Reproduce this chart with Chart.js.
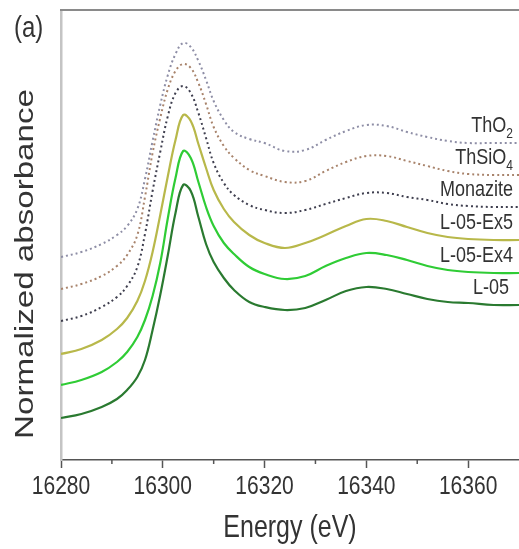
<!DOCTYPE html>
<html>
<head>
<meta charset="utf-8">
<script src="https://cdn.jsdelivr.net/npm/chart.js@4.4.1/dist/chart.umd.min.js"></script>
<style>
  html, body { margin: 0; padding: 0; background: #fff; }
  #wrap { position: relative; width: 519px; height: 549px; }
</style>
</head>
<body>
<div id="wrap"><canvas id="xanesChart"></canvas></div>
<script>
const energy = [16280, 16284, 16288, 16291, 16293, 16295, 16296.5, 16298, 16299.5, 16301, 16302.5, 16304, 16305.5, 16307, 16308.5, 16310, 16312, 16314, 16317, 16320, 16324, 16328, 16332, 16336, 16340, 16344, 16348, 16352, 16356, 16360, 16365, 16370];

const thO2 = [2.03, 2.08, 2.16, 2.25, 2.34, 2.51, 2.81, 3.19, 3.55, 3.85, 4.06, 4.17, 4.13, 3.99, 3.80, 3.59, 3.40, 3.28, 3.21, 3.17, 3.09, 3.10, 3.20, 3.29, 3.35, 3.34, 3.28, 3.23, 3.19, 3.17, 3.17, 3.17];
const thSiO4 = [1.71, 1.76, 1.84, 1.94, 2.05, 2.25, 2.63, 3.07, 3.42, 3.71, 3.89, 3.96, 3.92, 3.77, 3.56, 3.33, 3.14, 3.02, 2.90, 2.84, 2.78, 2.79, 2.89, 2.98, 3.04, 3.04, 2.99, 2.94, 2.89, 2.86, 2.85, 2.85];
const monazite = [1.39, 1.44, 1.53, 1.63, 1.74, 1.93, 2.26, 2.69, 3.08, 3.44, 3.67, 3.74, 3.67, 3.47, 3.22, 2.97, 2.77, 2.65, 2.55, 2.50, 2.47, 2.50, 2.56, 2.62, 2.67, 2.67, 2.63, 2.60, 2.56, 2.54, 2.53, 2.53];
const l05Ex5 = [1.06, 1.11, 1.20, 1.31, 1.42, 1.59, 1.79, 2.08, 2.45, 2.84, 3.20, 3.45, 3.39, 3.16, 2.92, 2.70, 2.51, 2.38, 2.25, 2.17, 2.12, 2.17, 2.25, 2.34, 2.41, 2.39, 2.33, 2.27, 2.23, 2.21, 2.20, 2.20];
const l05Ex4 = [0.75, 0.80, 0.88, 0.98, 1.08, 1.23, 1.40, 1.64, 1.97, 2.42, 2.82, 3.09, 3.02, 2.78, 2.53, 2.34, 2.17, 2.06, 1.93, 1.86, 1.81, 1.84, 1.94, 2.02, 2.07, 2.05, 2.00, 1.94, 1.90, 1.88, 1.87, 1.87];
const l05 = [0.42, 0.46, 0.53, 0.61, 0.70, 0.83, 1.00, 1.30, 1.65, 2.05, 2.47, 2.75, 2.69, 2.43, 2.16, 1.98, 1.82, 1.70, 1.58, 1.53, 1.50, 1.52, 1.60, 1.69, 1.73, 1.71, 1.66, 1.61, 1.58, 1.57, 1.55, 1.55];

const seriesNames = ["ThO2", "ThSiO4", "Monazite", "L-05-Ex5", "L-05-Ex4", "L-05"];
const labelMain = ["ThO", "ThSiO", "Monazite", "L-05-Ex5", "L-05-Ex4", "L-05"];
const labelSub = ["2", "4", "", "", "", ""];
const majorTicks = [16280, 16300, 16320, 16340, 16360];
const minorTicks = [16290, 16310, 16330, 16350];

const allSeries = [thO2, thSiO4, monazite, l05Ex5, l05Ex4, l05];
const colors = ["#8e8ea6", "#a8836b", "#3e3e4e", "#b8b84a", "#2fcc35", "#2a7a30"];
const dotted = [true, true, true, false, false, false];

const FONT = "'Liberation Sans', Arial, sans-serif";
const STRETCH = 1.25; // the figure's text is drawn taller than normal

// draws text stretched by sx/sy around its anchor point
function drawStretched(ctx, text, x, y, size, align, sx, sy) {
  ctx.save();
  ctx.translate(x, y);
  ctx.scale(sx, sy);
  ctx.font = `${size}px ${FONT}`;
  ctx.textAlign = align;
  ctx.textBaseline = "middle";
  ctx.fillText(text, 0, 0);
  ctx.restore();
}

function textWidth(ctx, text, size) {
  ctx.font = `${size}px ${FONT}`;
  return ctx.measureText(text).width;
}

const decorPlugin = {
  id: "decor",
  afterDraw(chart) {
    const { ctx, chartArea, scales } = chart;
    ctx.save();

    // top frame line
    ctx.strokeStyle = "#8a8a8a";
    ctx.lineWidth = 2;
    ctx.beginPath();
    ctx.moveTo(chartArea.left - 1, chartArea.top);
    ctx.lineTo(chartArea.right, chartArea.top);
    ctx.stroke();

    // minor ticks
    ctx.strokeStyle = "#555";
    ctx.lineWidth = 1.5;
    minorTicks.forEach((v) => {
      const x = scales.x.getPixelForValue(v);
      ctx.beginPath();
      ctx.moveTo(x, chartArea.bottom);
      ctx.lineTo(x, chartArea.bottom + 4);
      ctx.stroke();
    });

    ctx.fillStyle = "#333";

    // tick labels
    majorTicks.forEach((v) => {
      drawStretched(ctx, String(v), scales.x.getPixelForValue(v), chartArea.bottom + 27, 21, "center", 1, STRETCH);
    });

    // x axis title
    drawStretched(ctx, "Energy (eV)", (chartArea.left + chartArea.right) / 2, chartArea.bottom + 68, 25, "center", 1, STRETCH);

    // series labels, just above each curve's right end
    allSeries.forEach((series, i) => {
      const y = scales.y.getPixelForValue(series[series.length - 1]) - 17;
      const right = chartArea.right - (labelMain[i] === "L-05" ? 10 : 6);
      const subW = labelSub[i] ? textWidth(ctx, labelSub[i], 12) : 0;
      drawStretched(ctx, labelMain[i], right - subW, y, 18, "right", 1, STRETCH);
      if (labelSub[i]) {
        drawStretched(ctx, labelSub[i], right - subW, y + 8, 12, "left", 1, STRETCH);
      }
    });

    // panel tag
    drawStretched(ctx, "(a)", 14, 29, 24, "left", 1, STRETCH);

    // y axis title, stretched along its length
    ctx.translate(26, 264);
    ctx.rotate(-Math.PI / 2);
    drawStretched(ctx, "Normalized absorbance", 0, 0, 26.5, "center", STRETCH, 1);

    ctx.restore();
  }
};

new Chart(document.getElementById("xanesChart"), {
  type: "line",
  data: {
    datasets: allSeries.map((series, i) => ({
      label: seriesNames[i],
      data: energy.map((e, k) => ({ x: e, y: series[k] })),
      borderColor: colors[i],
      borderWidth: dotted[i] ? 2 : 2.2,
      borderDash: dotted[i] ? [2, 3] : [],
      pointRadius: 0,
      tension: 0.4,
      fill: false
    }))
  },
  options: {
    responsive: true,
    maintainAspectRatio: false,
    animation: false,
    layout: { padding: { top: 10, right: 0, left: 0, bottom: 0 } },
    plugins: {
      legend: { display: false },
      tooltip: { enabled: false }
    },
    scales: {
      x: {
        type: "linear",
        min: 16280,
        max: 16370,
        afterBuildTicks: (scale) => {
          scale.ticks = majorTicks.map((v) => ({ value: v }));
        },
        ticks: { display: false },
        grid: {
          display: true,
          drawOnChartArea: false,
          drawTicks: true,
          tickLength: 8,
          color: "#555",
          tickWidth: 1.5
        },
        border: { display: true, color: "#555", width: 1.5 },
        afterFit: (scale) => {
          scale.height = 89;
        }
      },
      y: {
        min: 0,
        max: 4.5,
        ticks: { display: false },
        grid: { display: false },
        border: { display: true, color: "#c4c4c4", width: 2.5 },
        afterFit: (scale) => {
          scale.width = 61;
        }
      }
    }
  },
  plugins: [decorPlugin]
});
</script>
</body>
</html>
